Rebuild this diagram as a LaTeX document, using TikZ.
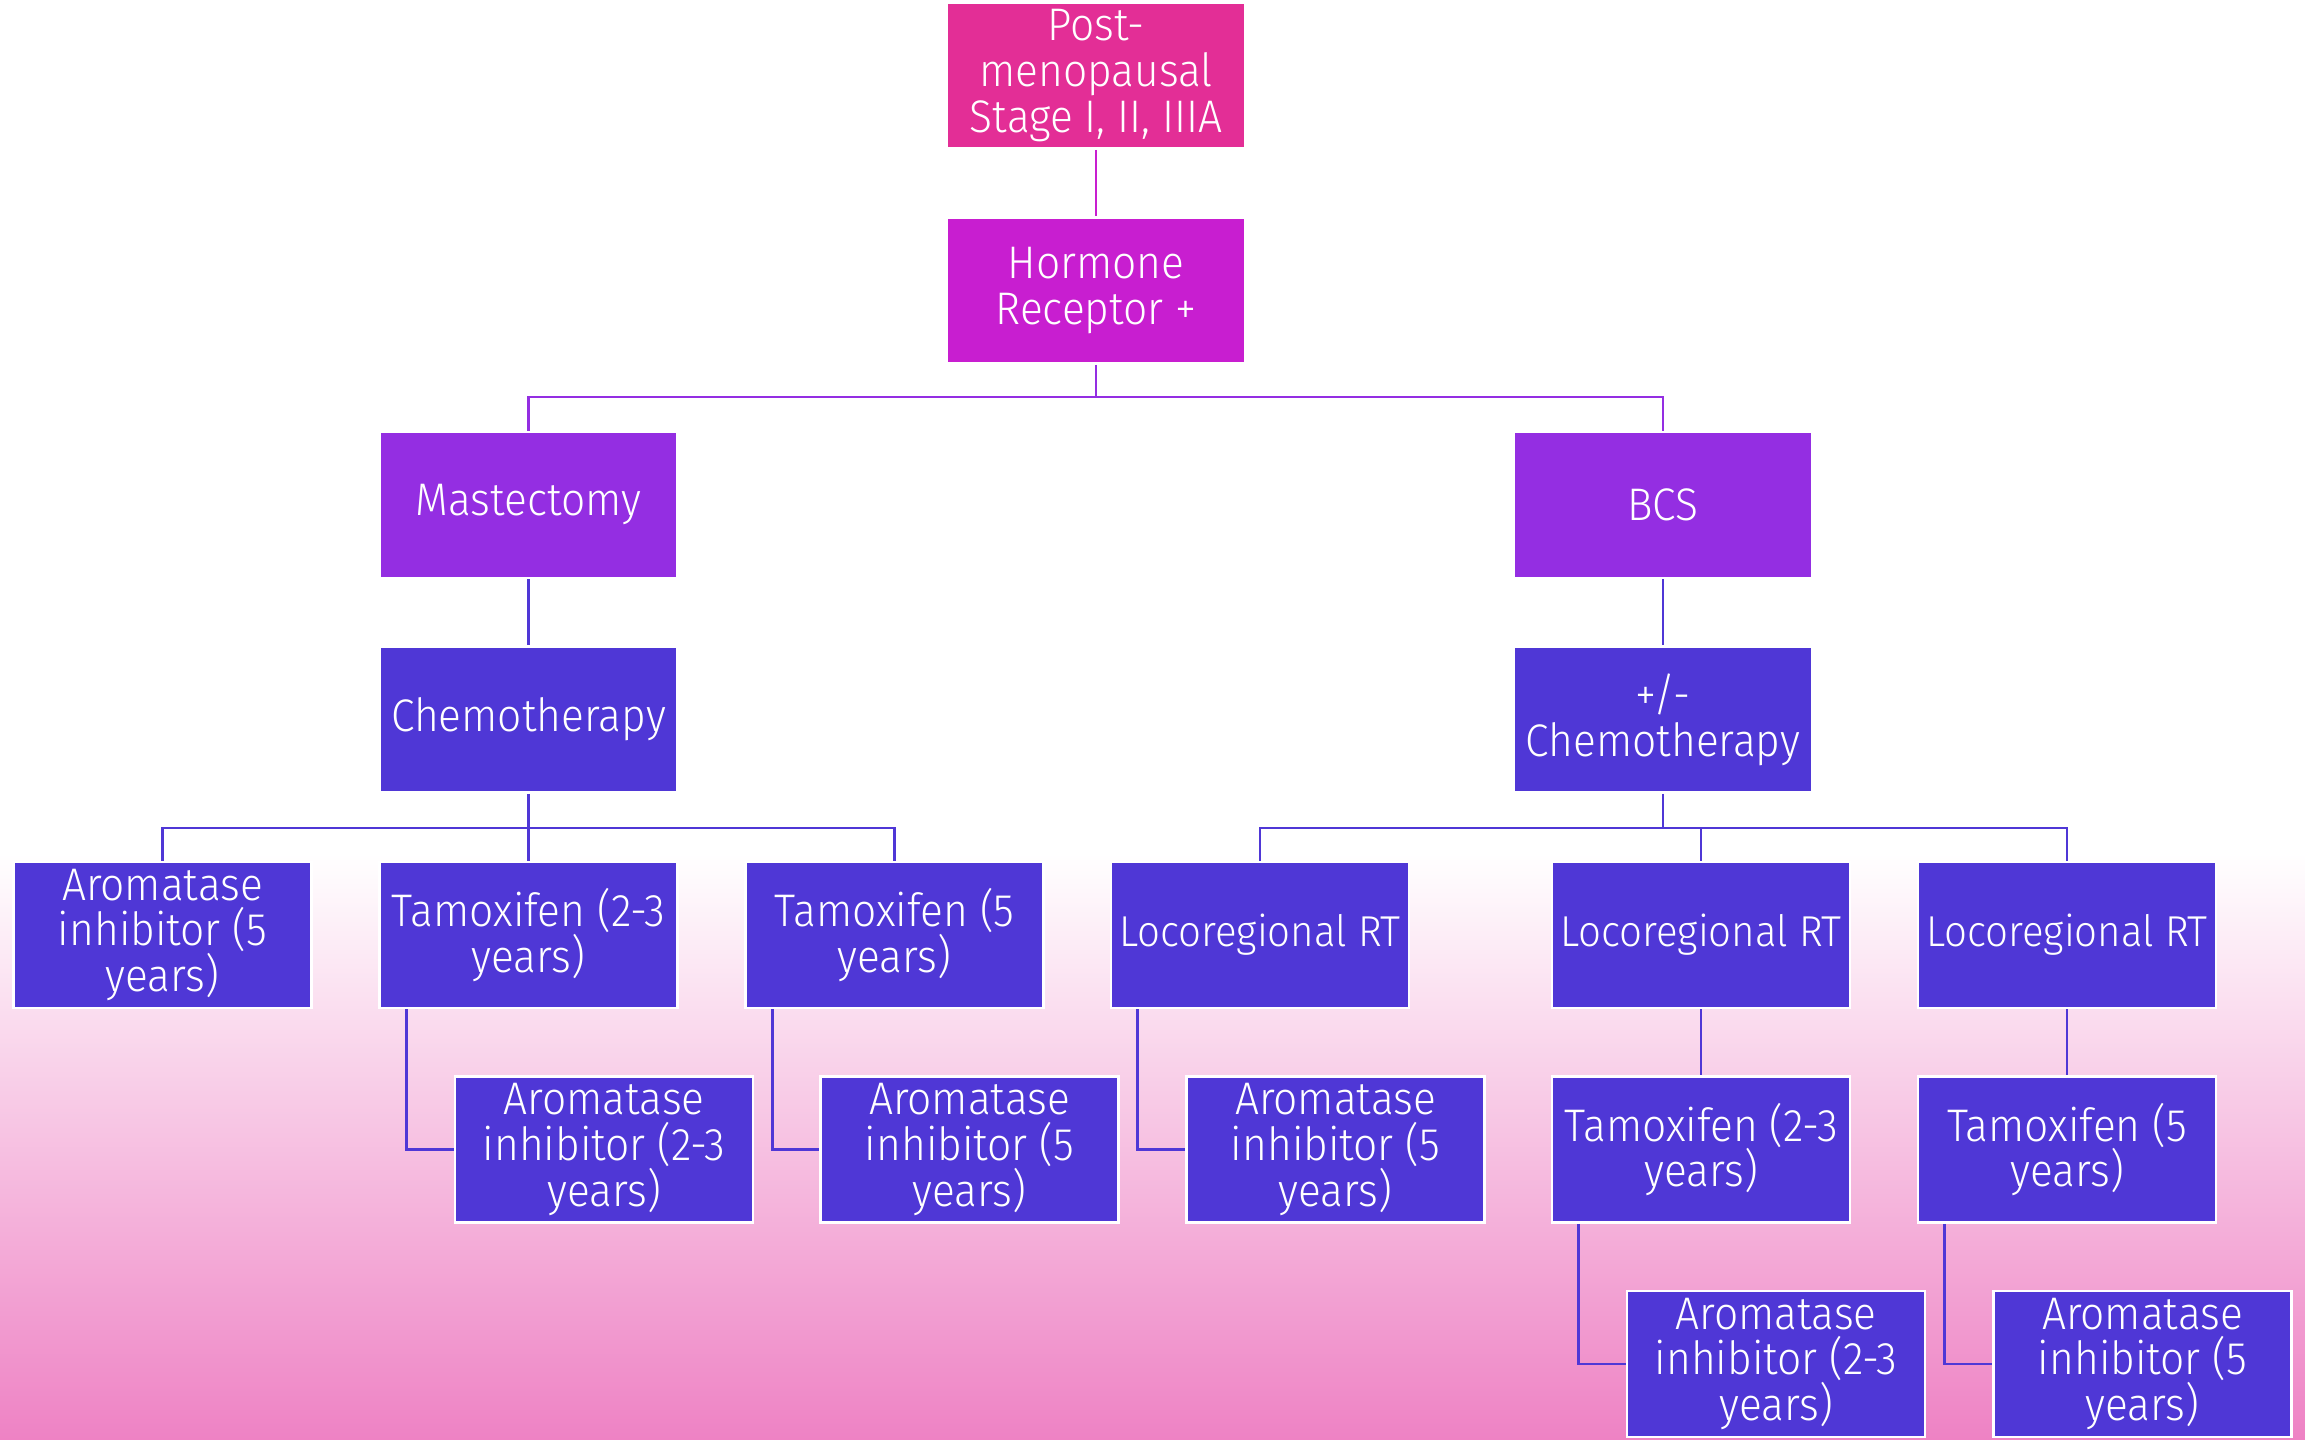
\documentclass[tikz,border=0pt]{standalone}
\usepackage{fontspec}
\setmainfont{Fira Sans}[UprightFont=* Light, FakeStretch=0.93]
\definecolor{cpost}{RGB}{227,46,150}
\definecolor{chr}{RGB}{200,30,208}
\definecolor{cviolet}{RGB}{148,46,226}
\definecolor{cblue}{RGB}{79,55,214}
\definecolor{bgpink}{RGB}{238,130,196}
\tikzset{
  box/.style={draw=white, line width=0.8pt, minimum width=2.98cm, minimum height=1.46cm,
    inner sep=0pt, align=center, text=white, font=\fontsize{13}{13}\selectfont},
  postbox/.style={box, fill=cpost},
  hrbox/.style={box, fill=chr},
  surgbox/.style={box, fill=cviolet},
  treatbox/.style={box, fill=cblue},
  rtbox/.style={treatbox, font=\fontsize{12.3}{13}\selectfont},
  link/.style={line width=0.8pt, cblue},
}
\begin{document}
\begin{tikzpicture}
% page and background gradient
\useasboundingbox (0,0) rectangle (23.05,-14.40);
\fill[white] (0,0) rectangle (23.05,-14.40);
\shade[top color=white, bottom color=bgpink] (0,-8.53) rectangle (23.05,-14.40);

% top of the tree
\node[postbox] (post) at (10.96,-0.755) {Post-\\menopausal\\Stage I, II, IIIA};
\node[hrbox]   (hr)   at (10.96,-2.905) {Hormone\\Receptor +};

% surgery
\node[surgbox] (mast) at (5.285,-5.05) {Mastectomy};
\node[surgbox] (bcs)  at (16.63,-5.05) {BCS};

% systemic therapy
\node[treatbox] (chemo)   at (5.285,-7.195) {Chemotherapy};
\node[treatbox] (pmchemo) at (16.63,-7.195) {+/-\\Chemotherapy};

% third level
\node[treatbox] (ai5)   at (1.625,-9.35)  {Aromatase\\inhibitor (5\\years)};
\node[treatbox] (t23)   at (5.285,-9.35)  {Tamoxifen (2-3\\years)};
\node[treatbox] (t5)    at (8.945,-9.35)  {Tamoxifen (5\\years)};
\node[rtbox]    (rt1)   at (12.60,-9.35)  {Locoregional RT};
\node[rtbox]    (rt2)   at (17.01,-9.35)  {Locoregional RT};
\node[rtbox]    (rt3)   at (20.67,-9.35)  {Locoregional RT};

% fourth level
\node[treatbox] (ai23a) at (6.04,-11.495)  {Aromatase\\inhibitor (2-3\\years)};
\node[treatbox] (ai5a)  at (9.695,-11.495) {Aromatase\\inhibitor (5\\years)};
\node[treatbox] (ai5b)  at (13.355,-11.495){Aromatase\\inhibitor (5\\years)};
\node[treatbox] (t23b)  at (17.01,-11.495) {Tamoxifen (2-3\\years)};
\node[treatbox] (t5b)   at (20.67,-11.495) {Tamoxifen (5\\years)};

% fifth level
\node[treatbox] (ai23c) at (17.76,-13.64)  {Aromatase\\inhibitor (2-3\\years)};
\node[treatbox] (ai5c)  at (21.425,-13.64) {Aromatase\\inhibitor (5\\years)};

% junctions
\coordinate (j1) at (10.96,-3.97);
\coordinate (j2) at (5.285,-8.28);
\coordinate (j3) at (16.63,-8.28);

% connectors
\draw[line width=0.8pt, chr] (post.south) -- (hr.north);
\draw[line width=0.8pt, cviolet] (hr.south) -- (j1);
\draw[line width=0.8pt, cviolet] (mast.north) |- (j1);
\draw[line width=0.8pt, cviolet] (bcs.north) |- (j1);

\draw[link] (mast.south) -- (chemo.north);
\draw[link] (bcs.south) -- (pmchemo.north);

\draw[link] (chemo.south) -- (j2);
\draw[link] (ai5.north) |- (j2);
\draw[link] (t23.north) |- (j2);
\draw[link] (t5.north) |- (j2);

\draw[link] (pmchemo.south) -- (j3);
\draw[link] (rt1.north) |- (j3);
\draw[link] (rt2.north) |- (j3);
\draw[link] (rt3.north) |- (j3);

\draw[link] ([xshift=0.28cm]t23.south west) |- (ai23a.west);
\draw[link] ([xshift=0.28cm]t5.south west) |- (ai5a.west);
\draw[link] ([xshift=0.28cm]rt1.south west) |- (ai5b.west);
\draw[link] (rt2.south) -- (t23b.north);
\draw[link] (rt3.south) -- (t5b.north);
\draw[link] ([xshift=0.28cm]t23b.south west) |- (ai23c.west);
\draw[link] ([xshift=0.28cm]t5b.south west) |- (ai5c.west);
\end{tikzpicture}
\end{document}
